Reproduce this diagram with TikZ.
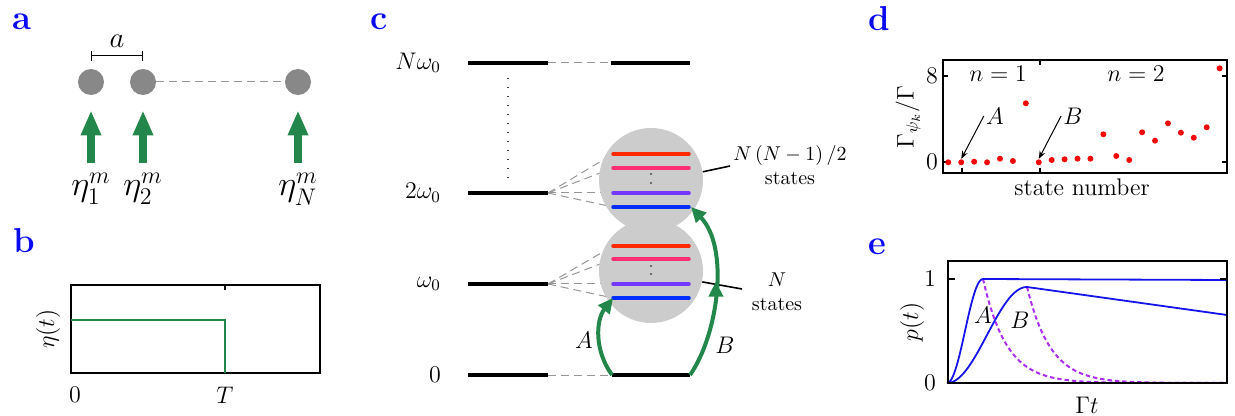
\documentclass[tikz,border=0pt]{standalone}
\usepackage{amsmath,amssymb}
\usepackage{tikz}
\usetikzlibrary{arrows.meta,decorations.markings}
\definecolor{panelblue}{RGB}{10,10,240}
\definecolor{atomgray}{RGB}{136,136,136}
\definecolor{blobgray}{RGB}{204,204,204}
\definecolor{guidegray}{RGB}{150,150,150}
\definecolor{pumpgreen}{RGB}{35,135,75}
\definecolor{subred}{RGB}{255,40,0}
\definecolor{subpink}{RGB}{255,45,115}
\definecolor{subviolet}{RGB}{115,55,255}
\definecolor{subblue}{RGB}{0,45,255}
\definecolor{dotred}{RGB}{240,10,10}
\definecolor{curveblue}{RGB}{20,20,235}
\definecolor{curveviolet}{RGB}{170,45,240}
\begin{document}
\begin{tikzpicture}[x=0.5pt,y=-0.5pt,font=\large,
    lbl/.style={font=\LARGE\bfseries,text=panelblue,anchor=base west,inner sep=0pt},
    atom/.style={circle,fill=atomgray,minimum size=13pt,inner sep=0pt},
    pump/.style={pumpgreen,line width=4pt,-{Triangle[length=12.5pt,width=9.5pt]}},
    lev/.style={line width=2pt},
    levtxt/.style={anchor=east,font=\large},
    sub/.style={line width=1.75pt,line cap=round},
    guide/.style={guidegray,line width=0.5pt,dash pattern=on 4pt off 2.5pt},
    blob/.style={circle,fill=blobgray,minimum size=52pt,inner sep=0pt},
    exc/.style={pumpgreen,line width=2pt,-{Triangle[length=7.5pt,width=7pt]}},
    dot/.style={circle,fill=dotred,minimum size=3pt,inner sep=0pt},
    frm/.style={line width=0.8pt},
    tick/.style={line width=0.6pt},
    pt/.style={-{Stealth[length=4pt,width=3pt]},line width=0.5pt}]
  \useasboundingbox (0,0) rectangle (1235,416);
  \node[lbl] (la) at (12,30) {a};
  \node[lbl] (lb) at (13,253) {b};
  \node[lbl] (lc) at (370,30) {c};
  \node[lbl] (ld) at (868,31) {d};
  \node[lbl] (le) at (868,255) {e};
  % chain of emitters
  \node[atom] (s1) at (91,82) {};
  \node[atom] (s2) at (143,82) {};
  \node[atom] (sN) at (298,82) {};
  \draw[guide] (s2) -- (sN);
  \draw[{Bar[width=5pt]}-{Bar[width=5pt]},line width=0.5pt] ([yshift=6.5pt]s1.north) -- ([yshift=6.5pt]s2.north)
    node[midway,above=0.5pt,font=\Large] (spc) {$a$};
  \foreach \s in {s1,s2,sN}
    \draw[pump] ([yshift=-34pt]\s.south) -- ([yshift=-7.5pt]\s.south);
  \node[anchor=base,font=\LARGE] (e1) at (91,196) {$\eta_1^m$};
  \node[anchor=base,font=\LARGE] (e2) at (143,196) {$\eta_2^m$};
  \node[anchor=base,font=\LARGE] (eN) at (298,196) {$\eta_N^m$};
  % pulse
  \draw[frm] (71,285) rectangle (320,373);
  \draw[tick] (225,285) -- (225,290);
  \draw[pumpgreen,line width=1pt] (71,320) -| (225,373);
  \node[rotate=90] (yb) at (48,329) {$\eta(t)$};
  \node (b0) at (75,395) {$0$};
  \node (bT) at (225,395) {$T$};
  % levels
  \foreach \y/\nm in {63/N,193/2,284/1,375/0}{
    \draw[lev] (468,\y) -- (548,\y);
    \coordinate (L\nm) at (548,\y);}
  \draw[lev] (611,63) -- (690,63);
  \draw[lev] (612,375) -- (690,375);
  \coordinate (RN) at (611,63);
  \coordinate (R0a) at (612,375);
  \coordinate (R0b) at (690,375);
  \draw[guide] (LN) -- (RN);
  \draw[guide] (L0) -- (R0a);
  \draw[black!75,line width=0.7pt,dash pattern=on 0.7pt off 3.8pt] (508,78) -- (508,182);
  \node[levtxt] (tN) at (448,63) {$N\omega_0$};
  \node[levtxt] (t2) at (448,193) {$2\omega_0$};
  \node[levtxt] (t1) at (448,284) {$\omega_0$};
  \node[levtxt] (t0) at (448,375) {$0$};
  \foreach \y [count=\i] in {154,168,193,207}{
    \coordinate (u\i) at (613,\y);
    \draw[guide] (L2) -- (u\i);}
  \foreach \y [count=\i] in {246,259,284,298}{
    \coordinate (w\i) at (613,\y);
    \draw[guide] (L1) -- (w\i);}
  \node[blob] (c2) at (651,180) {};
  \node[blob] (c1) at (651,271) {};
  \foreach \y/\c in {154/subred,168/subpink,193/subviolet,207/subblue,246/subred,259/subpink,284/subviolet,298/subblue}
    \draw[sub,\c] (613,\y) -- (689,\y);
  \coordinate (u4e) at (691,207);
  \foreach \y in {174,183,266,274}
    \fill[black!70] (651,\y) circle[radius=0.6pt];
  \coordinate (tu) at (730,166);
  \coordinate (tl) at (742,289);
  \draw[line width=0.8pt] (c2.9) -- (tu);
  \draw[line width=0.8pt] (c1.-12) -- (tl);
  \node[font=\normalsize,align=center] (nup) at (790,165) {$N\left(N-1\right)/2$\\states};
  \node[font=\normalsize,align=center] (nlo) at (777,292) {$N$\\states};
  \draw[exc] (R0a) .. controls (594,350) and (596,320) .. (w4);
  \draw[exc,postaction={decorate},decoration={markings,
      mark=at position 0.55 with {\arrow{Triangle[length=7.5pt,width=7pt]}}}]
    (R0b) .. controls (718,335) and (730,248) .. (u4e);
  \node (gA) at (584,340) {$A$};
  \node (gB) at (725,345) {$B$};
  % decay rates
  \draw[frm] (943,60) rectangle (1227,173);
  \draw[tick] (943,76) -- (948,76) (943,162) -- (948,162)
    (1227,76) -- (1222,76) (1227,162) -- (1222,162)
    (1040,60) -- (1040,65) (962,173) -- (962,168) (1040,173) -- (1040,168);
  \foreach \y [count=\i] in {162.3,162.3,161.7,162.3,158.7,161,103.3,162.3,160,159.3,158.7,
      158.7,134.3,156,160,132.3,140.7,123.3,132.7,137.7,127.3,68.3}
    \node[dot] (d\i) at ({948.3+12.92*(\i-1)},\y) {};
  \node (d8l) at (932,76) {$8$};
  \node (d0l) at (932,162) {$0$};
  \node (n1) at (998,74) {$n=1$};
  \node (n2) at (1136,74) {$n=2$};
  \node[inner sep=1pt] (dA) at (995,116) {$A$};
  \node[inner sep=1pt] (dB) at (1073,116) {$B$};
  \draw[pt] (dA.west) -- (d2.north);
  \draw[pt] (dB.west) -- (d8.north);
  \node[rotate=90] (yd) at (908,117) {$\Gamma_{\psi_k}/\Gamma$};
  \node (xd) at (1082,187) {state number};
  % populations
  \draw[curveviolet,line width=1pt,dash pattern=on 2.2pt off 1.5pt]
    plot[domain=983:1227,samples=80] (\x,{383-104*exp(-(\x-983)/23.5)});
  \draw[curveviolet,line width=1pt,dash pattern=on 2.2pt off 1.5pt]
    plot[domain=1027:1227,samples=70] (\x,{383-96*exp(-(\x-1027)/23.5)});
  \draw[curveblue,line width=0.9pt]
    plot[domain=947:983,samples=30] (\x,{383-104*pow(sin(90*(\x-947)/36),2)}) -- (1227,280);
  \draw[curveblue,line width=0.9pt]
    plot[domain=947:1027,samples=50] (\x,{383-96*pow(sin(90*(\x-947)/80),2)}) -- (1227,315);
  \draw[frm] (948,261) rectangle (1227,383);
  \draw[tick] (948,279) -- (955,279) (1227,279) -- (1220,279);
  \node (e1l) at (930,279) {$1$};
  \node (e0l) at (930,383) {$0$};
  \node (eA) at (983,315) {$A$};
  \node (eB) at (1020,320) {$B$};
  \node[rotate=90] (ye) at (912,322) {$p(t)$};
  \node (xe) at (1087,405) {$\Gamma t$};
\end{tikzpicture}
\end{document}
